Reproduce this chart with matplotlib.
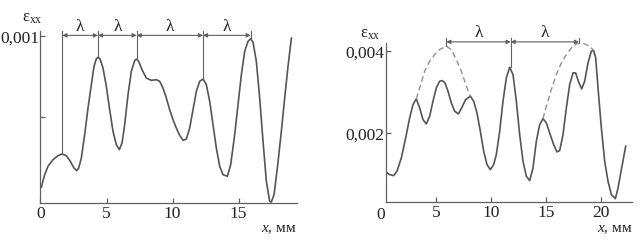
import matplotlib
matplotlib.use("Agg")
import matplotlib.pyplot as plt

plt.rcParams['font.family'] = ['Liberation Serif', 'DejaVu Serif']
plt.rcParams['mathtext.fontset'] = 'custom'
plt.rcParams['mathtext.rm'] = 'Liberation Serif'
plt.rcParams['mathtext.it'] = 'Liberation Serif:italic'

# ---- Left panel data (x in mm, strain) ----
x_left = [0.063, 0.316, 0.568, 0.947, 1.326, 1.629, 1.957, 2.260, 2.538, 2.74,
          2.892, 3.093, 3.346, 3.598, 3.85, 4.053, 4.23, 4.356, 4.508, 4.735,
          4.987, 5.24, 5.492, 5.745, 5.972, 6.174, 6.376, 6.629, 6.881, 7.134,
          7.26, 7.437, 7.689, 8.018, 8.396, 8.775, 9.028, 9.28, 9.533, 9.785,
          10.038, 10.29, 10.543, 10.795, 11.048, 11.3, 11.553, 11.806, 12.058,
          12.311, 12.563, 12.816, 13.068, 13.321, 13.573, 13.826, 14.154, 14.407,
          14.71, 14.962, 15.215, 15.467, 15.72, 15.922, 16.098, 16.351, 16.604,
          16.856, 17.109, 17.361, 17.487, 17.689, 17.942, 18.245, 18.497, 18.75,
          19.003]
y_left = [0.000063, 0.000141, 0.000193, 0.000234, 0.000259, 0.000269, 0.000259,
          0.000224, 0.000182, 0.000166, 0.000182, 0.000244, 0.000389, 0.000554,
          0.000699, 0.000813, 0.00086, 0.000869, 0.00086, 0.000802, 0.000689,
          0.000544, 0.00041, 0.000327, 0.000296, 0.000337, 0.000451, 0.000637,
          0.000782, 0.000848, 0.000858, 0.000844, 0.000792, 0.00074, 0.000726,
          0.00073, 0.00072, 0.000678, 0.000616, 0.000544, 0.000482, 0.00043,
          0.000385, 0.000354, 0.000362, 0.00043, 0.000544, 0.000658, 0.00072,
          0.000734, 0.000699, 0.000596, 0.000451, 0.000306, 0.000193, 0.000141,
          0.000131, 0.000203, 0.000389, 0.000575, 0.000761, 0.000906, 0.000968,
          0.000984, 0.000963, 0.000844, 0.000616, 0.000348, 0.0001, -0.000024,
          -0.000029, 0.000017, 0.000182, 0.00041, 0.000616, 0.000813, 0.000988]
lam_left_x = [1.654, 4.356, 7.285, 12.311, 15.922]
lam_left_peak = [0.000269, 0.000869, 0.000858, 0.000734, 0.000984]

# ---- Right panel data ----
x_right = [0.425, 0.789, 1.154, 1.457, 1.852, 2.247, 2.611, 2.914, 3.218, 3.522,
           3.825, 4.129, 4.432, 4.736, 5.04, 5.343, 5.586, 5.829, 6.102, 6.405,
           6.709, 7.043, 7.347, 7.711, 8.136, 8.44, 8.743, 9.047, 9.351, 9.654,
           9.957, 10.261, 10.504, 10.808, 11.111, 11.415, 11.718, 12.022, 12.325,
           12.629, 12.933, 13.236, 13.54, 13.843, 14.147, 14.451, 14.754, 15.058,
           15.361, 15.726, 16.029, 16.272, 16.576, 16.879, 17.183, 17.486, 17.729,
           17.972, 18.276, 18.549, 18.852, 19.156, 19.369, 19.551, 19.763, 20.067,
           20.37, 20.674, 20.977, 21.342, 21.585, 21.888, 22.283]
y_right = [0.001053, 0.000987, 0.000963, 0.00107, 0.001395, 0.001885, 0.002375,
           0.0027, 0.00284, 0.00262, 0.002333, 0.002228, 0.002416, 0.002783,
           0.003109, 0.003273, 0.003288, 0.003231, 0.003028, 0.002742, 0.002539,
           0.002472, 0.002619, 0.002823, 0.002906, 0.002783, 0.002497, 0.002049,
           0.001559, 0.001231, 0.001109, 0.001231, 0.001476, 0.002049, 0.002783,
           0.003354, 0.003615, 0.003435, 0.002783, 0.001966, 0.001314, 0.000947,
           0.00084, 0.001151, 0.001804, 0.002211, 0.002357, 0.002252, 0.002007,
           0.001721, 0.001542, 0.001574, 0.001966, 0.002619, 0.00319, 0.003476,
           0.003476, 0.003273, 0.003084, 0.003273, 0.003721, 0.004007, 0.004022,
           0.003843, 0.003109, 0.00213, 0.001314, 0.000825, 0.000497, 0.000399,
           0.000661, 0.001109, 0.001682]
env1_x = [3.218, 3.522, 3.977, 4.432, 4.888, 5.343, 5.95, 6.405, 6.861, 7.316,
          7.772, 8.136]
env1_y = [0.00284, 0.003109, 0.003517, 0.003762, 0.003925, 0.004047, 0.00413,
          0.004047, 0.003802, 0.003517, 0.003151, 0.002906]
env2_x = [14.754, 15.058, 15.513, 15.968, 16.424, 16.879, 17.334, 17.79, 18.245,
          18.701, 19.156, 19.369]
env2_y = [0.002357, 0.002661, 0.003067, 0.003435, 0.003721, 0.003925, 0.004088,
          0.004186, 0.004211, 0.004169, 0.004088, 0.004022]
lam_right_x = [5.95, 11.81, 18.03]
lam_right_peak = [0.00413, 0.003615, 0.0042]

W, H = 644, 243
fig = plt.figure(figsize=(W / 100, H / 100), dpi=100)

curve_c = '#555555'
axis_c = '#606060'
text_c = '#222222'
fs = 12.5

def style(ax):
    for s in ('top', 'right'):
        ax.spines[s].set_visible(False)
    for s in ('left', 'bottom'):
        ax.spines[s].set_color(axis_c)
        ax.spines[s].set_linewidth(0.9)
    ax.tick_params(direction='in', length=3.5, width=0.9, color=axis_c,
                   labelsize=fs, labelcolor=text_c)
    ax.tick_params(axis='x', pad=2)
    ax.tick_params(axis='y', pad=1)

def lambdas(ax, xs, peaks, top, arr, lab):
    for xv, pv in zip(xs, peaks):
        ax.plot([xv, xv], [pv, top], color=axis_c, lw=0.8, clip_on=False)
    for a, b in zip(xs[:-1], xs[1:]):
        ax.annotate('', xy=(b, arr), xytext=(a, arr),
                    arrowprops=dict(arrowstyle='<|-|>', color=axis_c, lw=0.8,
                                    mutation_scale=6, shrinkA=0, shrinkB=0),
                    annotation_clip=False)
        ax.text((a + b) / 2, lab, 'λ', ha='center', va='center',
                fontsize=fs, color=text_c, clip_on=False)

# Left panel
ax1 = fig.add_axes([40.5 / W, 1 - 203 / H, (297 - 40.5) / W, (203 - 30.7) / H])
style(ax1)
ax1.plot(x_left, y_left, color=curve_c, lw=1.2, solid_joinstyle='round')
ax1.set_xlim(0, 19.43)
ax1.set_ylim(-0.0000347, 0.001034)
ax1.set_xticks([0, 5, 10, 15])
ax1.set_xticklabels(['0', '5', '10', '15'])
ax1.set_yticks([0.0005, 0.001])
ax1.set_yticklabels(['', '0,001'])
lambdas(ax1, lam_left_x, lam_left_peak, 0.00103, 0.001005, 0.00106)
fig.text(32 / W, 1 - 18 / H, 'ε$_{\\mathrm{xx}}$', ha='center', va='center',
         fontsize=12, color=text_c)
fig.text(279 / W, 1 - 229.5 / H, r'$x$, мм', ha='center', va='center',
         fontsize=11, color=text_c)

# Right panel
ax2 = fig.add_axes([385.7 / W, 1 - 202.3 / H, (631.7 - 385.7) / W, (202.3 - 43.3) / H])
style(ax2)
ax2.plot(x_right, y_right, color=curve_c, lw=1.2, solid_joinstyle='round')
ax2.plot(env1_x, env1_y, color='#909090', lw=1.0, ls=(0, (4, 2.5)))
ax2.plot(env2_x, env2_y, color='#909090', lw=1.0, ls=(0, (4, 2.5)))
ax2.set_xlim(0.43, 22.83)
ax2.set_ylim(0.00031, 0.0042)
ax2.set_xticks([5, 10, 15, 20])
ax2.set_xticklabels(['5', '10', '15', '20'])
ax2.set_yticks([0.002, 0.004])
ax2.set_yticklabels(['0,002', '0,004'])
ax2.annotate('0', xy=(0, 0.00031), xycoords='data', xytext=(0, -3.5),
             textcoords='offset points', ha='center', va='top',
             fontsize=fs, color=text_c, annotation_clip=False)
lambdas(ax2, lam_right_x, lam_right_peak, 0.00433, 0.004235, 0.00445)
fig.text(370 / W, 1 - 34 / H, 'ε$_{\\mathrm{xx}}$', ha='center', va='center',
         fontsize=12, color=text_c)
fig.text(615 / W, 1 - 229.5 / H, r'$x$, мм', ha='center', va='center',
         fontsize=11, color=text_c)

fig.savefig('out.png', dpi=100)
